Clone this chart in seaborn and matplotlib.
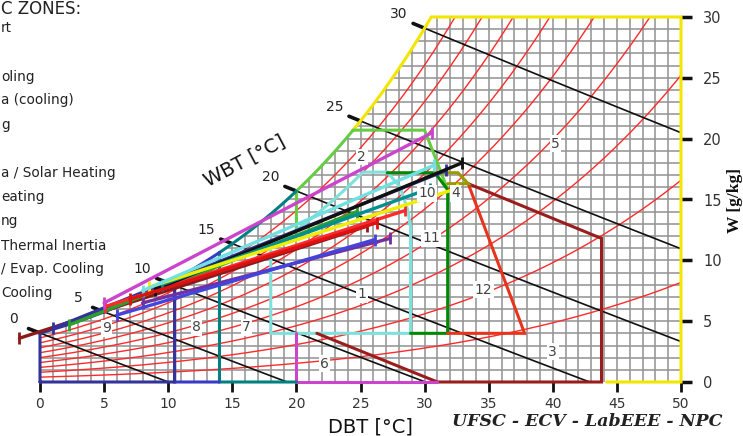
import numpy as np
import pandas as pd
import matplotlib
matplotlib.use("Agg")
import matplotlib.pyplot as plt
import seaborn as sns

# chart values
dbt_ticks = [0, 5, 10, 15, 20, 25, 30, 35, 40, 45, 50]
w_ticks = [0, 5, 10, 15, 20, 25, 30]
rh_levels = [0.1, 0.2, 0.3, 0.4, 0.5, 0.6, 0.7, 0.8, 0.9]
wbt_levels = [0, 5, 10, 15, 20, 25, 30]
pressure_kpa = 95.0

# monthly lines (min -> max)
month_colors = ['#8b1a1a', '#333399', '#2ca02c', '#ff2a2a', '#cc44cc', '#111111',
                '#009090', '#eeee00', '#70e0e0', '#7030a0', '#dd1111', '#4444dd']
month_tmin = [-1.6, 1.0, 2.3, 5.1, 5.0, 9.0, 9.5, 8.5, 8.0, 8.0, 7.0, 6.0]
month_wmin = [3.6, 4.4, 4.7, 6.2, 6.5, 7.6, 8.0, 7.8, 7.5, 6.5, 6.8, 5.5]
month_tmax = [25.5, 31.7, 24.7, 28.5, 30.6, 32.9, 30.4, 32.5, 30.7, 27.3, 26.3, 26.1]
month_wmax = [12.8, 17.4, 14.0, 14.1, 20.5, 18.0, 15.9, 15.9, 17.8, 11.8, 13.1, 11.7]

# zone labels
zone_ids = ['1', '2', '3', '4', '5', '6', '7', '8', '9', '10', '11', '12']
zone_lab_t = [25.1, 25.1, 40.0, 32.4, 40.2, 22.2, 16.1, 12.2, 5.2, 30.2, 30.5, 34.6]
zone_lab_w = [7.2, 18.5, 2.5, 15.5, 19.6, 1.5, 4.5, 4.5, 4.4, 15.5, 11.8, 7.6]

legend_frags = ['C ZONES:', 'rt', 'oling', 'a (cooling)', 'g', 'a / Solar Heating',
                'eating', 'ng', 'Thermal Inertia', '/ Evap. Cooling', 'Cooling']


def psat(t):
    return 0.61078 * np.exp(17.27 * t / (t + 237.3))


def w_rh(t, rh):
    pv = rh * psat(t)
    return 622.0 * pv / (pressure_kpa - pv)


def w_sat(t):
    return w_rh(t, 1.0)


_tt = np.linspace(-5, 60, 6501)


def t_sat(w):
    return np.interp(w, w_sat(_tt), _tt)


def w_wbt(t, twb):
    ws = w_sat(twb) / 1000.0
    return 1000.0 * ((2501 - 2.326 * twb) * ws - 1.006 * (t - twb)) / (2501 + 1.86 * t - 4.186 * twb)


def sat_seg(t0, t1, n=60):
    t = np.linspace(t0, t1, n)
    return list(zip(t, w_sat(t)))


def rh_seg(t0, t1, rh, n=60):
    t = np.linspace(t0, t1, n)
    return list(zip(t, w_rh(t, rh)))


sns.set_theme(style="white")
plt.rcParams['font.family'] = ['DejaVu Sans']

fig = plt.figure(figsize=(7.43, 4.36), dpi=100)
ax = fig.add_axes([40 / 743, 1 - 382 / 436, 641 / 743, 365 / 436])
ax.set_xlim(0, 50)
ax.set_ylim(0, 30)
for s in ax.spines.values():
    s.set_visible(False)

# grid under the saturation curve
gcol = '#959595'
for t in range(0, 51):
    ax.plot([t, t], [0, min(w_sat(t), 30)], color=gcol, lw=1.15, zorder=1)
for w in range(1, 31):
    ax.plot([max(0, t_sat(w)), 50], [w, w], color=gcol, lw=1.15, zorder=1)

# relative humidity curves
rows = []
tt = np.linspace(0, 50, 1001)
for rh in rh_levels:
    ww = w_rh(tt, rh)
    keep = ww <= 30
    for a, b in zip(tt[keep], ww[keep]):
        rows.append({'T': a, 'W': b, 'RH': rh})
rh_df = pd.DataFrame(rows)
sns.lineplot(data=rh_df, x='T', y='W', hue='RH', palette=['#ff2a2a'] * len(rh_levels),
             legend=False, sort=False, estimator=None, lw=1.0, ax=ax, zorder=2)

# wet bulb lines
for twb in wbt_levels:
    ws = w_sat(twb)
    t0 = twb + (2501 - 2.326 * twb) * ws / 1000 / 1.006
    t = np.linspace(twb, min(50, t0), 100)
    ax.plot(t, w_wbt(t, twb), color='#111111', lw=1.2, zorder=3)
    te = np.linspace(twb - 0.9, twb, 5)
    ax.plot(te, w_wbt(te, twb), color='#111111', lw=2.6, zorder=3, clip_on=False)
    ax.annotate(str(twb), xy=(twb, ws), xytext=(-26, 14), textcoords='offset pixels',
                ha='center', va='center', fontsize=10, color='#222222', annotation_clip=False)

# zones
w80_18 = w_rh(18.0, 0.8)
t80_top = np.interp(17.25, w_rh(_tt, 0.8), _tt)
zones = [
    ('#f2e600', [(44.2, 0), (50, 0), (50, 30)] + sat_seg(t_sat(30), t_sat(20.7))),
    ('#66cc44', [(20, 12.6)] + sat_seg(20, t_sat(20.7)) + [(30.0, 20.7), (31.0, 18.0), (31.8, 15.8)]),
    ('#7fe0dc', rh_seg(18, t80_top, 0.8) + [(27.1, 17.25), (28.1, 16.0), (28.7, 14.1),
                                           (28.9, 12.7), (28.9, 4.0), (18, 4.0), (18, w80_18)]),
    ('#008800', [(27.1, 17.2), (30.8, 17.2), (31.8, 15.8), (31.8, 4.0), (28.9, 4.0)]),
    ('#9b1c1c', [(21.6, 4.0), (31.0, 0), (43.8, 0), (43.8, 11.8), (33.4, 16.3)]),
    ('#e8341c', [(31.8, 4.0), (37.8, 4.0), (33.4, 16.3)]),
    ('#9a9a00', [(30.8, 17.2), (32.6, 17.2), (33.4, 16.3), (31.8, 16.3)]),
    ('#cc44cc', [(20, 4.0), (20, 0), (31.0, 0)]),
    ('#008080', sat_seg(20, 14)[:-1] + [(14, w_sat(14)), (14, 0), (20, 0)]),
    ('#3a3ac8', sat_seg(14, 10.5) + [(10.5, 0), (14, 0)]),
    ('#333399', [(0, 0)] + sat_seg(0, 10.5) + [(10.5, 0), (0, 0)]),
]
for col, pts in zones:
    xs, ys = zip(*pts)
    ax.plot(xs, ys, color=col, lw=2.2, zorder=4, clip_on=False, solid_joinstyle='miter')

# monthly lines
for c, t0, w0, t1, w1 in zip(month_colors, month_tmin, month_wmin, month_tmax, month_wmax):
    ax.plot([t0, t1], [w0, w1], color=c, lw=2.4, zorder=5, clip_on=False)
    ax.plot([t0, t1], [w0, w1], ls='none', marker='|', ms=9, mew=2, color=c, zorder=5, clip_on=False)

for z, t, w in zip(zone_ids, zone_lab_t, zone_lab_w):
    ax.text(t, w, z, ha='center', va='center', fontsize=10, color='#444444', zorder=6,
            bbox=dict(boxstyle='square,pad=0.1', fc='white', ec='none'))

# axes
ax.set_xticks(dbt_ticks)
ax.set_yticks(w_ticks)
ax.yaxis.tick_right()
ax.tick_params(axis='x', bottom=True, length=7, width=2, color='#111111', pad=4,
               labelsize=10, labelcolor='#333333')
ax.tick_params(axis='y', right=True, left=False, length=8, width=2.5, color='#111111', pad=8,
               labelsize=10.5, labelcolor='#333333')
ax.set_xlabel('')
ax.set_ylabel('')

fig.text(370 / 743, 1 - 427 / 436, 'DBT [°C]', ha='center', va='center', fontsize=14, color='#111111')
fig.text(735 / 743, 1 - 200 / 436, 'W [g/kg]', ha='center', va='center', rotation=90,
         fontsize=12.5, fontweight='bold', family='Liberation Serif', color='#111111')
fig.text(587 / 743, 1 - 421 / 436, 'UFSC - ECV - LabEEE - NPC', ha='center', va='center',
         fontsize=12.5, fontweight='bold', style='italic', family='DejaVu Serif', color='#222222')
ax.text(16.0, 18.2, 'WBT [°C]', rotation=28, ha='center', va='center', fontsize=14, color='#111111')

# legend text, left part cropped in the source picture
fig.text(1 / 743, 1 - 14 / 436, legend_frags[0], ha='left', va='baseline',
         fontsize=12, color='#222222')
leg_y = [28, 77, 100, 125, 173, 197, 221, 246, 269, 293]
for s, yc in zip(legend_frags[1:], leg_y):
    fig.text(1 / 743, 1 - yc / 436, s, ha='left', va='center', fontsize=9.8, color='#222222')

fig.savefig('out.png', dpi=100)
